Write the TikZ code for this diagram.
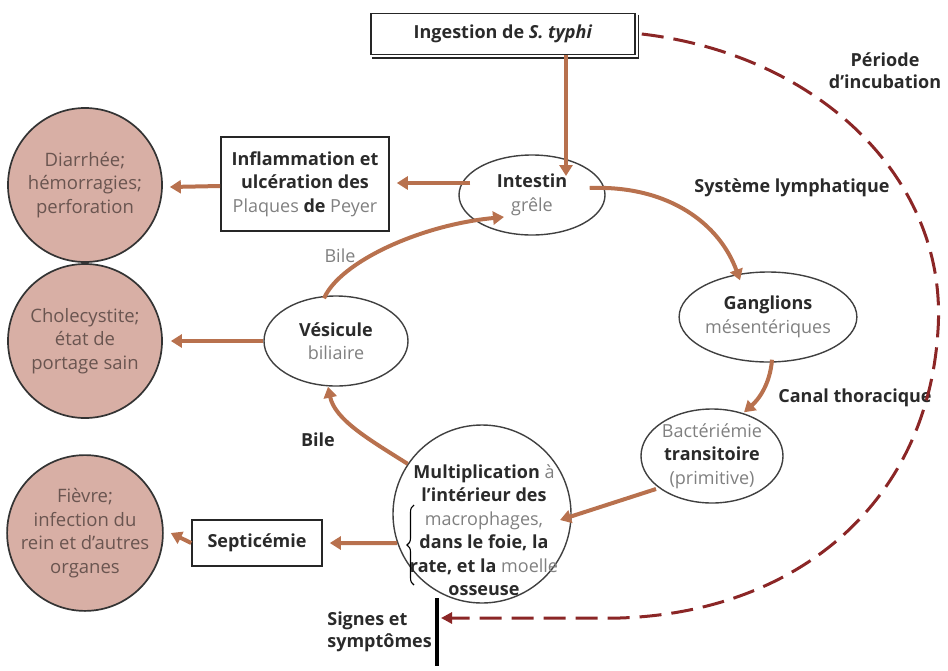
\documentclass[tikz,border=0pt]{standalone}
\usepackage{fontspec}
\setmainfont{Open Sans}
\usetikzlibrary{shapes.geometric,arrows.meta,calc,decorations.pathreplacing}
\definecolor{arr}{HTML}{B8714E}
\definecolor{dashc}{HTML}{8B2626}
\definecolor{pinkf}{HTML}{D8AFA5}
\definecolor{gtxt}{HTML}{808080}
\definecolor{ctxt}{HTML}{6A5550}
\definecolor{btxt}{HTML}{2A2A2A}
\newcommand{\txb}[1]{\textcolor{btxt}{\bfseries #1}}
\newcommand{\txg}[1]{\textcolor{gtxt}{#1}}
\begin{document}
\begin{tikzpicture}[x=1pt,y=-1pt,
  font=\fontsize{18}{23.5}\selectfont,
  oval/.style={ellipse, draw=black!75, line width=1.4pt, inner sep=0pt, align=center},
  sick/.style={circle, draw=black!80, line width=1.7pt, fill=pinkf, inner sep=0pt, align=center, text=ctxt, font=\fontsize{18.5}{23.5}\selectfont},
  boxn/.style={rectangle, draw=black!85, line width=1.6pt, inner sep=0pt, align=center, text=btxt},
  flow/.style={draw=arr, line width=4pt, -{Triangle[length=11pt,width=13pt]}},
  lab/.style={text=btxt, font=\bfseries\fontsize{18}{22}\selectfont, align=center, inner sep=0pt},
  dashline/.style={draw=dashc, line width=3pt, dash pattern=on 22pt off 10pt, -{Triangle[length=11pt,width=11pt]}}]
\useasboundingbox (0,0) rectangle (948,670);

% boxes
\node[boxn, minimum width=264pt, minimum height=41pt] (ing) at (503,34) {\bfseries Ingestion de \textit{S. typhi}};
\draw[black!85, line width=1.6pt] ($(ing.north east)+(2.5,2)$) -- ($(ing.south east)+(2.5,2.5)$) -- ($(ing.south west)+(2,2.5)$);
\node[boxn, minimum width=168pt, minimum height=94pt] (inf) at (305,184) {\txb{Inflammation et}\\\txb{ulcération des}\\\txg{Plaques} \txb{de} \txg{Peyer}};
\node[boxn, minimum width=130pt, minimum height=46pt] (sep) at (257,543) {\txb{Septicémie}};

% ovals
\node[oval, minimum width=146pt, minimum height=80pt] (int) at (532,195) {\txb{Intestin}\\\txg{grêle}};
\node[oval, minimum width=144pt, minimum height=90pt] (ves) at (336,341) {\txb{Vésicule}\\\txg{biliaire}};
\node[oval, minimum width=146pt, minimum height=90pt] (gang) at (768,317) {\txb{Ganglions}\\\txg{mésentériques}};
\node[oval, minimum width=142pt, minimum height=94pt] (bact) at (712,456) {\txg{Bactériémie}\\\txb{transitoire}\\\txg{(primitive)}};
\node[circle, draw=black!75, line width=1.4pt, minimum size=178pt, inner sep=0pt] (mult) at (482,514) {};
\node[align=center, inner sep=0pt] (multt) at (484,530) {\txb{Multiplication} \txg{à}\\\txb{l’intérieur des}\\\txg{macrophages,}\\\txb{dans le foie, la}\\\txb{rate, et la} \txg{moelle}\\\txb{osseuse}};
\draw[black, line width=1.1pt, decorate, decoration={brace, amplitude=7pt, mirror}] (414,505) -- (414,585);

% sickness circles
\node[sick, minimum size=154pt] (dia) at (85,185) {Diarrhée;\\hémorragies;\\perforation};
\node[sick, minimum size=154pt] (cho) at (85,341) {Cholecystite;\\état de\\portage sain};
\node[sick, minimum size=148pt] (fie) at (85,533) {Fièvre;\\infection du\\rein et d’autres\\organes};

% labels
\node[lab] (perio) at (885,71) {Période\\d’incubation};
\node[lab] (lymph) at (792,188) {Système lymphatique};
\node[lab] (canal) at (855,398) {Canal thoracique};
\node[text=gtxt, inner sep=0pt] (bile1) at (340,256) {Bile};
\node[lab] (bile2) at (318,440) {Bile};
\node[lab, align=left, anchor=east] (signes) at (432,632) {Signes et\\symptômes};
\draw[black, line width=4pt] (437,598) coordinate (bartop) -- (437,666) coordinate (barbot);
\coordinate (barmid) at (437,618);

% flow arrows
\draw[flow] ($(ing.south)+(63,0)$) -- ($(int.center)+(34,-19)$);
\draw[flow] ($(int.west)+(12,-12)$) -- ($(inf.east)+(7,-1)$);
\draw[flow] ($(inf.west)+(0,2)$) -- ($(dia.east)+(7,2)$);
\draw[flow] (ves.west) -- ($(cho.east)+(8,0)$);
\draw[flow] ($(ves.north)+(-12,3)$) .. controls (340,262) and (420,225) .. ($(int.center)+(-28,22)$);
\draw[flow] (mult.146) .. controls (370,440) and (335,420) .. ($(ves.south)+(-8,0)$);
\draw[flow] (mult.199) -- ($(sep.east)+(7,0)$);
\draw[flow] (sep.west) -- ($(fie.east)+(7,0)$);
\draw[flow] ($(int.east)+(-16,-7)$) .. controls (670,185) and (720,225) .. ($(gang.north)+(-28,9)$);
\draw[flow] ($(gang.south)+(4,-3)$) .. controls (770,385) and (758,400) .. ($(bact.north)+(32,4)$);
\draw[flow] ($(bact.center)+(-56,33)$) -- ($(mult.center)+(78,6)$);

% incubation dashed
\draw[dashline] ($(ing.east)+(6,0)$) .. controls (820,55) and (948,180) .. (938,330)
   .. controls (928,500) and (800,612) .. (620,618) -- ($(barmid)+(4,0)$);
\end{tikzpicture}
\end{document}
